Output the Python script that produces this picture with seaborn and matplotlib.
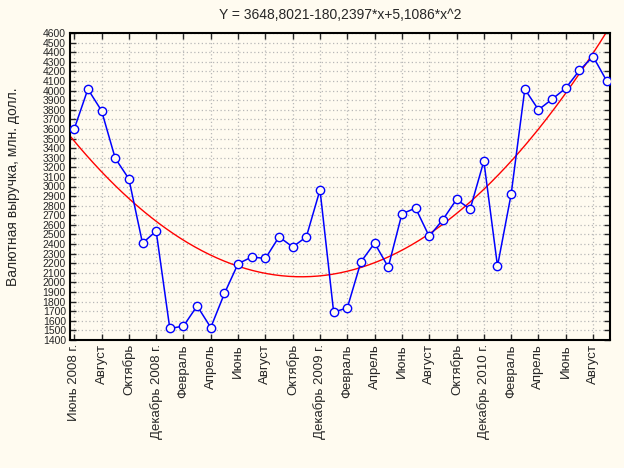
# %%
# === Load modules ===
import numpy as np
import pandas as pd
import seaborn as sns
import matplotlib.pyplot as plt

# %%
# === Data ===
MONTH_IDX = list(range(1, 41))  # June 2008 .. September 2011
REVENUE = [3600, 4015, 3790, 3295, 3080, 2410, 2535, 1520, 1545, 1755,
           1530, 1885, 2195, 2265, 2250, 2475, 2370, 2475, 2965, 1690,
           1735, 2215, 2410, 2160, 2715, 2775, 2480, 2655, 2865, 2765,
           3265, 2170, 2920, 4015, 3800, 3910, 4025, 4210, 4355, 4100]
TICK_POS = list(range(1, 40, 2))
TICK_LABELS = ['Июнь 2008 г.', 'Август', 'Октябрь', 'Декабрь 2008 г.', 'Февраль',
               'Апрель', 'Июнь', 'Август', 'Октябрь', 'Декабрь 2009 г.', 'Февраль',
               'Апрель', 'Июнь', 'Август', 'Октябрь', 'Декабрь 2010 г.', 'Февраль',
               'Апрель', 'Июнь', 'Август']
# quadratic fit from title: Y = b0 + b1*x + b2*x^2
FIT_COEF = [3648.8021, -180.2397, 5.1086]

BG = '#fffbf0'

# %%
df = pd.DataFrame({'x': MONTH_IDX, 'y': REVENUE})
x_fit = np.linspace(0.7, 40.3, 300)
fit = pd.DataFrame({'x': x_fit,
                    'y': FIT_COEF[0] + FIT_COEF[1] * x_fit + FIT_COEF[2] * x_fit ** 2})

sns.set_style('white')
plt.rcParams['font.family'] = ['Liberation Sans', 'DejaVu Sans']

fig = plt.figure(figsize=(6.24, 4.68), dpi=100, facecolor=BG)
ax = fig.add_axes([70 / 624, 1 - 340 / 468, 540 / 624, 307 / 468])
ax.set_facecolor(BG)

sns.lineplot(data=fit, x='x', y='y', color='red', linewidth=1, ax=ax, zorder=2)
sns.lineplot(data=df, x='x', y='y', color='blue', linewidth=1.1, marker='o',
             markersize=6, markerfacecolor=BG, markeredgecolor='blue',
             markeredgewidth=1, ax=ax, zorder=3)

ax.set_xlim(0.69, 40.24)
ax.set_ylim(1400, 4600)
ax.set_yticks(range(1400, 4601, 100))
ax.set_yticklabels([str(v) for v in range(1400, 4601, 100)],
                   family=['Liberation Sans Narrow', 'Liberation Sans', 'DejaVu Sans'],
                   fontsize=7.5)
ax.set_xticks(TICK_POS)
ax.set_xticklabels(TICK_LABELS, rotation=90, fontsize=9.5)

ax.grid(True, color='#b8b8b8', linestyle=(0, (1, 2)), linewidth=0.9)
ax.tick_params(direction='in', length=4, width=1, top=True, right=True,
               left=True, bottom=True, labeltop=False, labelright=False, pad=3)
for s in ax.spines.values():
    s.set_color('black')
    s.set_linewidth(1.5)

ax.set_xlabel('')
ax.set_ylabel('Валютная выручка, млн. долл.', fontsize=10)
ax.yaxis.set_label_coords(-0.092, 0.5)
ax.set_title('Y = 3648,8021-180,2397*x+5,1086*x^2', fontsize=10, pad=10)

plt.savefig('out.png', dpi=100, facecolor=BG)
